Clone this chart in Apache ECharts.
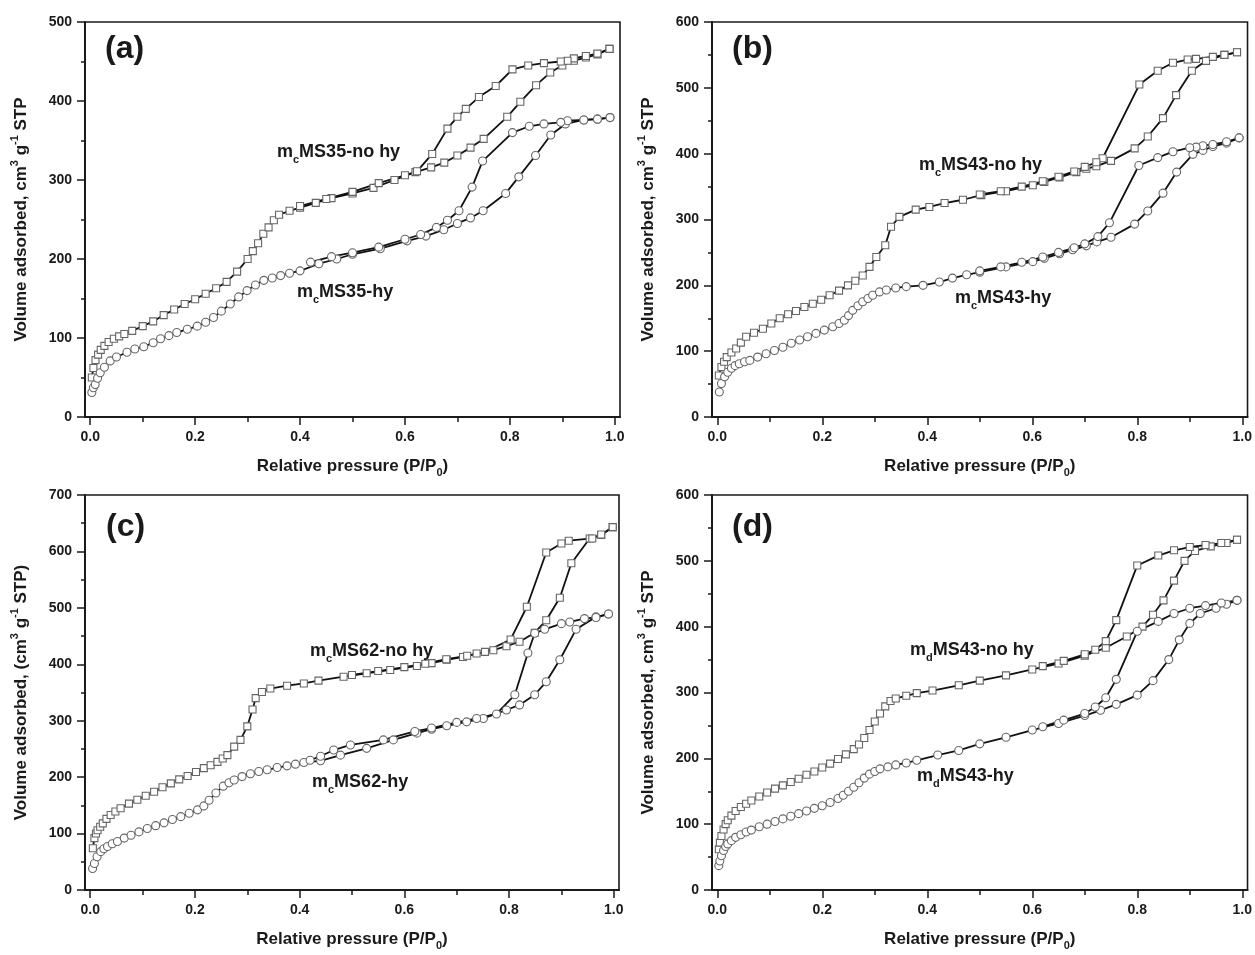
<!DOCTYPE html>
<html>
<head>
<meta charset="utf-8">
<script src="https://cdn.jsdelivr.net/npm/echarts@6/dist/echarts.min.js"></script>
<style>
  html, body { margin: 0; padding: 0; background: #fff; }
  #chart { width: 1255px; height: 955px; }
</style>
</head>
<body>
<div id="chart"></div>
<script>
// isotherm points [P/P0, volume]; ads = adsorption branch, des = desorption branch
const a_noHy_ads = [[0.003,50],[0.006,62],[0.010,72],[0.015,79],[0.020,85],[0.027,90],[0.035,95],[0.045,99],[0.055,102],[0.065,105],[0.08,109],[0.10,115],[0.12,121],[0.14,129],[0.16,136],[0.18,143],[0.20,149],[0.22,156],[0.24,163],[0.26,171],[0.28,184],[0.30,200],[0.31,210],[0.32,220],[0.33,232],[0.34,240],[0.35,249],[0.36,256],[0.38,261],[0.40,265],[0.43,271],[0.46,277],[0.50,283],[0.54,290],[0.58,300],[0.62,310],[0.65,316],[0.675,322],[0.70,331],[0.725,341],[0.75,352],[0.795,380],[0.82,399],[0.85,420],[0.877,436],[0.90,445],[0.922,451],[0.945,455],[0.967,459],[0.99,466]];
const a_noHy_des = [[0.99,466],[0.967,460],[0.945,457],[0.922,454],[0.91,451],[0.897,450],[0.865,448],[0.835,445],[0.805,440],[0.773,419],[0.741,405],[0.716,390],[0.70,380],[0.681,365],[0.652,333],[0.623,311],[0.60,306],[0.55,296],[0.50,285],[0.45,276],[0.40,267]];
const a_hy_ads = [[0.003,31],[0.006,37],[0.0095,41],[0.014,49],[0.019,56],[0.027,63],[0.038,71],[0.05,76],[0.07,82],[0.085,86],[0.102,89],[0.12,94],[0.134,99],[0.15,103],[0.165,107],[0.185,111],[0.204,115],[0.22,120],[0.235,126],[0.25,134],[0.267,143],[0.283,152],[0.299,160],[0.315,167],[0.331,173],[0.347,176],[0.363,179],[0.38,182],[0.40,185],[0.436,194],[0.47,200],[0.50,206],[0.553,213],[0.604,223],[0.64,229],[0.674,237],[0.70,245],[0.725,252],[0.749,261],[0.792,283],[0.817,304],[0.849,331],[0.878,357],[0.906,371],[0.941,376],[0.967,377],[0.991,379]];
const a_hy_des = [[0.991,379],[0.967,377],[0.941,376],[0.91,375],[0.897,373],[0.865,371],[0.837,368],[0.805,360],[0.748,324],[0.728,291],[0.703,261],[0.681,249],[0.66,240],[0.63,231],[0.60,225],[0.55,215],[0.50,208],[0.46,203],[0.42,196]];

const b_noHy_ads = [[0.003,63],[0.008,76],[0.013,84],[0.018,91],[0.027,98],[0.036,104],[0.045,113],[0.055,122],[0.07,128],[0.087,134],[0.103,142],[0.119,150],[0.135,156],[0.15,161],[0.166,167],[0.182,172],[0.198,178],[0.214,185],[0.232,192],[0.249,200],[0.263,207],[0.277,215],[0.29,228],[0.303,243],[0.32,261],[0.331,289],[0.347,304],[0.378,315],[0.404,319],[0.433,325],[0.468,330],[0.503,337],[0.55,343],[0.601,352],[0.623,357],[0.652,364],[0.684,372],[0.703,377],[0.722,381],[0.75,389],[0.795,408],[0.82,426],[0.849,454],[0.874,489],[0.904,526],[0.931,541],[0.966,550],[0.99,554]];
const b_noHy_des = [[0.99,554],[0.966,550],[0.944,547],[0.912,544],[0.896,543],[0.868,538],[0.839,526],[0.804,505],[0.734,393],[0.722,387],[0.70,380],[0.68,373],[0.65,365],[0.62,358],[0.58,350],[0.54,343],[0.50,338]];
const b_hy_ads = [[0.004,38],[0.008,51],[0.014,61],[0.02,68],[0.027,74],[0.034,78],[0.042,81],[0.052,84],[0.062,86],[0.077,91],[0.093,96],[0.109,101],[0.125,106],[0.141,112],[0.157,117],[0.172,122],[0.188,127],[0.204,132],[0.22,137],[0.232,142],[0.242,147],[0.25,154],[0.258,162],[0.268,169],[0.277,175],[0.287,180],[0.296,185],[0.309,190],[0.322,193],[0.34,196],[0.36,198],[0.392,200],[0.423,205],[0.448,211],[0.475,216],[0.5,220],[0.55,228],[0.601,236],[0.623,241],[0.652,248],[0.677,254],[0.703,260],[0.723,266],[0.75,273],[0.795,293],[0.82,313],[0.849,340],[0.875,372],[0.906,399],[0.925,405],[0.944,411],[0.97,416],[0.994,424]];
const b_hy_des = [[0.994,424],[0.97,418],[0.944,414],[0.925,412],[0.912,410],[0.9,409],[0.868,403],[0.839,394],[0.803,382],[0.747,295],[0.725,274],[0.70,263],[0.68,257],[0.65,250],[0.62,243],[0.58,235],[0.54,228],[0.50,222]];

const c_noHy_ads = [[0.005,74],[0.008,92],[0.011,100],[0.014,106],[0.019,112],[0.024,118],[0.031,126],[0.039,133],[0.048,139],[0.058,145],[0.074,153],[0.09,160],[0.106,167],[0.122,174],[0.138,182],[0.154,189],[0.17,196],[0.186,202],[0.202,209],[0.217,216],[0.23,221],[0.243,227],[0.253,233],[0.262,239],[0.275,254],[0.287,266],[0.3,290],[0.31,320],[0.316,340],[0.328,351],[0.344,357],[0.376,362],[0.408,366],[0.436,371],[0.484,378],[0.528,384],[0.573,390],[0.624,397],[0.652,402],[0.681,408],[0.712,413],[0.738,419],[0.77,425],[0.795,432],[0.82,440],[0.849,456],[0.871,478],[0.897,518],[0.919,579],[0.954,623],[0.976,629],[0.998,643]];
const c_noHy_des = [[0.998,643],[0.976,630],[0.959,623],[0.914,619],[0.9,614],[0.871,598],[0.834,502],[0.803,444],[0.754,422],[0.72,415],[0.68,409],[0.64,401],[0.6,395],[0.55,388],[0.5,381]];
const c_hy_ads = [[0.0045,38],[0.008,47],[0.013,59],[0.02,68],[0.026,73],[0.033,77],[0.042,82],[0.052,86],[0.065,92],[0.078,97],[0.093,103],[0.109,109],[0.125,114],[0.141,119],[0.157,125],[0.173,130],[0.189,136],[0.205,142],[0.217,149],[0.227,159],[0.24,172],[0.254,184],[0.265,190],[0.275,195],[0.29,201],[0.306,206],[0.322,210],[0.338,213],[0.357,217],[0.376,220],[0.392,223],[0.408,226],[0.44,229],[0.478,239],[0.528,251],[0.579,266],[0.624,278],[0.652,285],[0.681,291],[0.719,298],[0.751,304],[0.795,319],[0.82,328],[0.849,346],[0.871,369],[0.897,408],[0.928,462],[0.966,484],[0.99,489]];
const c_hy_des = [[0.99,489],[0.966,483],[0.944,481],[0.916,475],[0.9,472],[0.868,462],[0.849,455],[0.836,420],[0.811,346],[0.776,312],[0.738,304],[0.7,297],[0.652,287],[0.62,281],[0.56,266],[0.497,257],[0.465,248],[0.44,237],[0.42,230]];

const d_noHy_ads = [[0.003,62],[0.005,72],[0.008,82],[0.012,92],[0.016,100],[0.02,106],[0.027,113],[0.035,120],[0.045,126],[0.055,131],[0.065,136],[0.08,142],[0.095,148],[0.11,154],[0.125,159],[0.14,164],[0.155,169],[0.17,175],[0.185,180],[0.2,186],[0.215,192],[0.23,199],[0.245,206],[0.26,214],[0.27,221],[0.28,231],[0.29,243],[0.3,256],[0.31,268],[0.32,279],[0.33,287],[0.34,291],[0.36,295],[0.38,299],[0.41,303],[0.46,311],[0.5,318],[0.55,326],[0.6,335],[0.65,344],[0.7,356],[0.74,368],[0.78,385],[0.81,400],[0.83,418],[0.85,440],[0.87,470],[0.89,500],[0.91,515],[0.94,522],[0.97,527],[0.99,532]];
const d_noHy_des = [[0.99,532],[0.96,527],[0.93,524],[0.9,521],[0.87,516],[0.84,508],[0.8,493],[0.76,410],[0.74,378],[0.72,365],[0.7,358],[0.66,348],[0.62,340]];
const d_hy_ads = [[0.003,37],[0.005,44],[0.008,52],[0.012,60],[0.016,66],[0.02,70],[0.027,75],[0.035,80],[0.045,84],[0.055,88],[0.065,91],[0.08,96],[0.095,100],[0.11,104],[0.125,108],[0.14,112],[0.155,116],[0.17,120],[0.185,124],[0.2,128],[0.215,133],[0.23,139],[0.24,144],[0.25,150],[0.26,156],[0.27,163],[0.28,170],[0.29,176],[0.3,180],[0.31,184],[0.325,187],[0.34,190],[0.36,193],[0.38,197],[0.42,205],[0.46,212],[0.5,222],[0.55,232],[0.6,243],[0.65,253],[0.7,265],[0.73,273],[0.76,282],[0.8,296],[0.83,318],[0.86,350],[0.88,380],[0.9,405],[0.92,420],[0.95,428],[0.97,434],[0.99,440]];
const d_hy_des = [[0.99,440],[0.96,436],[0.93,432],[0.9,428],[0.87,420],[0.84,408],[0.8,393],[0.76,320],[0.74,292],[0.72,278],[0.7,268],[0.66,258],[0.62,248]];

const xMajor = [0, 0.2, 0.4, 0.6, 0.8, 1.0];
const xMinor = [0.1, 0.3, 0.5, 0.7, 0.9];
const yMaxes = [500, 600, 700, 600];
const panelTags = ['(a)', '(b)', '(c)', '(d)'];
const sampleSub = ['c', 'c', 'c', 'd'];
const sampleNames = ['MS35', 'MS43', 'MS62', 'MS43'];

const FONT = 'Liberation Sans, Arial, Helvetica, sans-serif';
const INK = '#1a1a1a';

const grids = [
  { left: 85, top: 22, width: 535, height: 395 },
  { left: 712, top: 22, width: 536, height: 395 },
  { left: 85, top: 495, width: 534, height: 395 },
  { left: 712, top: 495, width: 536, height: 395 },
];
const tagPos = [[105, 31], [732, 31], [106, 509], [732, 509]];
const noHyPos = [[277, 139], [919, 152], [310, 638], [910, 637]];
const hyPos = [[297, 279], [955, 285], [312, 769], [917, 763]];

const panelData = [
  [a_noHy_ads, a_noHy_des, a_hy_ads, a_hy_des],
  [b_noHy_ads, b_noHy_des, b_hy_ads, b_hy_des],
  [c_noHy_ads, c_noHy_des, c_hy_ads, c_hy_des],
  [d_noHy_ads, d_noHy_des, d_hy_ads, d_hy_des],
];

const chart = echarts.init(document.getElementById('chart'));

const labelRich = {
  b: { fontFamily: FONT, fontSize: 18, fontWeight: 'bold', color: INK, lineHeight: 26 },
  s: { fontFamily: FONT, fontSize: 11, fontWeight: 'bold', color: INK, verticalAlign: 'bottom' },
};
const axisRich = {
  t: { fontFamily: FONT, fontSize: 17, fontWeight: 'bold', color: INK, lineHeight: 24 },
  sup: { fontFamily: FONT, fontSize: 11, fontWeight: 'bold', color: INK, verticalAlign: 'top' },
  sub: { fontFamily: FONT, fontSize: 11, fontWeight: 'bold', color: INK, verticalAlign: 'bottom' },
};

const xAxis = [];
const yAxis = [];
const series = [];
const title = [];

grids.forEach((g, i) => {
  const tickLine = { color: INK, width: 1.5 };
  xAxis.push({
    gridIndex: i, type: 'value', min: -0.01, max: 1.01, position: 'bottom',
    name: '{t|Relative pressure (P/P}{sub|0}{t|)}',
    nameLocation: 'middle', nameGap: 37,
    nameTextStyle: { rich: axisRich },
    axisLine: { onZero: false, lineStyle: { color: INK, width: 2 } },
    axisTick: { customValues: xMajor, length: 8, lineStyle: tickLine },
    axisLabel: {
      customValues: xMajor, formatter: (v) => v.toFixed(1),
      fontFamily: FONT, fontSize: 14, fontWeight: 'bold', color: INK, margin: 13,
    },
    splitLine: { show: false },
  });
  xAxis.push({
    gridIndex: i, type: 'value', min: -0.01, max: 1.01, position: 'bottom',
    axisLine: { show: false, onZero: false },
    axisTick: { customValues: xMinor, length: 5, lineStyle: tickLine },
    axisLabel: { show: false },
    splitLine: { show: false },
  });
  const yUnit = i === 2
    ? '{t|Volume adsorbed, (cm}{sup|3}{t| g}{sup|-1}{t| STP)}'
    : '{t|Volume adsorbed, cm}{sup|3}{t| g}{sup|-1}{t| STP}';
  yAxis.push({
    gridIndex: i, type: 'value', min: 0, max: yMaxes[i], interval: 100,
    name: yUnit, nameLocation: 'middle', nameGap: 52,
    nameTextStyle: { rich: axisRich },
    axisLine: { show: true, onZero: false, lineStyle: { color: INK, width: 2 } },
    axisTick: { show: true, length: 8, lineStyle: tickLine },
    minorTick: { show: true, splitNumber: 2, length: 4, lineStyle: tickLine },
    axisLabel: { fontFamily: FONT, fontSize: 14, fontWeight: 'bold', color: INK, margin: 13 },
    splitLine: { show: false },
  });

  panelData[i].forEach((pts, k) => {
    const isHy = k >= 2;
    series.push({
      type: 'line',
      xAxisIndex: i * 2,
      yAxisIndex: i,
      data: pts,
      showAllSymbol: true,
      symbol: isHy ? 'circle' : 'rect',
      symbolSize: isHy ? 8 : 7,
      lineStyle: { color: '#111', width: 1.8 },
      itemStyle: { color: '#fff', borderColor: '#666', borderWidth: 1.1 },
      emphasis: { disabled: true },
      animation: false,
    });
  });

  title.push({
    text: panelTags[i], left: tagPos[i][0], top: tagPos[i][1], padding: 0,
    textStyle: { fontFamily: FONT, fontSize: 32, fontWeight: 'bold', color: INK, lineHeight: 36 },
  });
  title.push({
    text: `{b|m}{s|${sampleSub[i]}}{b|${sampleNames[i]}-no hy}`,
    left: noHyPos[i][0], top: noHyPos[i][1], padding: 0,
    textStyle: { rich: labelRich },
  });
  title.push({
    text: `{b|m}{s|${sampleSub[i]}}{b|${sampleNames[i]}-hy}`,
    left: hyPos[i][0], top: hyPos[i][1], padding: 0,
    textStyle: { rich: labelRich },
  });
});

chart.setOption({
  animation: false,
  backgroundColor: '#fff',
  title,
  grid: grids.map((g) => ({ ...g, show: true, borderColor: INK, borderWidth: 1.6, backgroundColor: 'transparent' })),
  xAxis,
  yAxis,
  series,
});
</script>
</body>
</html>
